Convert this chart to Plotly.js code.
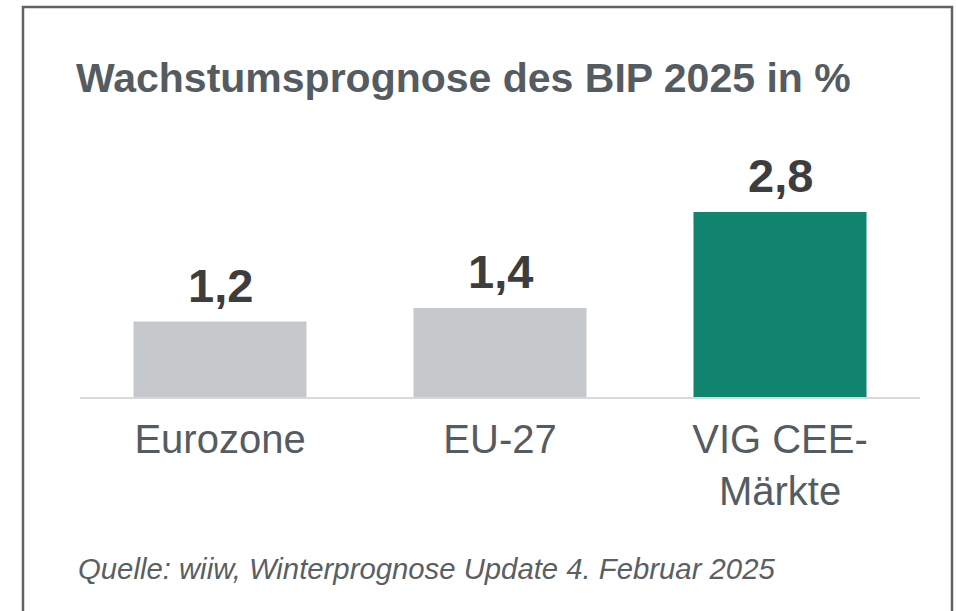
<!DOCTYPE html>
<html>
<head>
<meta charset="utf-8">
<script src="https://cdn.plot.ly/plotly-3.0.1.min.js"></script>
<style>
  html, body { margin: 0; padding: 0; background: #ffffff; }
  #chart { width: 956px; height: 611px; }
</style>
</head>
<body>
<div id="chart"></div>
<script>
const categories = ["Eurozone", "EU-27", "VIG CEE-<br>Märkte"];
const values = [1.2, 1.4, 2.8];
const valueLabels = ["1,2", "1,4", "2,8"];
const barColors = ["#c5c9cc", "#c5c9cc", "#10846e"];
const titleText = "Wachstumsprognose des BIP 2025 in %";
const sourceText = "Quelle: wiiw, Winterprognose Update 4. Februar 2025";

const W = 956, H = 611;
const mL = 80, mR = 36, mT = 100, mB = 214;
const plotW = W - mL - mR, plotH = H - mT - mB;
const px2x = p => (p - mL) / plotW;
const py2y = p => (H - mB - p) / plotH;

const FONT = "Liberation Sans, Arial, Helvetica, sans-serif";

const trace = {
  type: "bar",
  x: categories,
  y: values,
  marker: { color: barColors, line: { width: 0 } },
  hoverinfo: "skip",
  cliponaxis: false
};

const annotations = categories.map((c, i) => ({
  x: c, y: values[i], xref: "x", yref: "y",
  text: "<b>" + valueLabels[i] + "</b>",
  showarrow: false, xanchor: "center", yanchor: "bottom", yshift: 8,
  font: { family: FONT, size: 47, color: "#3d3d3d" }
}));

annotations.push({
  xref: "paper", yref: "paper",
  x: px2x(76), y: py2y(587),
  xanchor: "left", yanchor: "bottom",
  text: "<i>" + sourceText + "</i>",
  showarrow: false,
  font: { family: FONT, size: 29.3, color: "#595f63" }
});

const layout = {
  width: W, height: H,
  margin: { l: mL, r: mR, t: mT, b: mB, pad: 0 },
  paper_bgcolor: "#ffffff",
  plot_bgcolor: "#ffffff",
  showlegend: false,
  bargap: 0.382,
  title: {
    text: "<b>" + titleText + "</b>",
    font: { family: FONT, size: 41, color: "#555c61" },
    xref: "container", yref: "container",
    x: 76 / W, xanchor: "left",
    y: 1 - 63 / H, yanchor: "top"
  },
  xaxis: {
    type: "category",
    showgrid: false, zeroline: false,
    showline: true, linecolor: "#d9d9d9", linewidth: 2,
    ticks: "",
    tickfont: { family: FONT, size: 40, color: "#555c61" },
    ticklabelstandoff: 6,
    fixedrange: true
  },
  yaxis: {
    range: [0.1, 4.434],
    showgrid: false, zeroline: false, showline: false,
    showticklabels: false, ticks: "",
    fixedrange: true
  },
  annotations: annotations,
  shapes: [{
    type: "path", xref: "paper", yref: "paper",
    path: "M " + px2x(23) + "," + py2y(640) +
          " L " + px2x(23) + "," + py2y(7) +
          " L " + px2x(952) + "," + py2y(7) +
          " L " + px2x(952) + "," + py2y(640),
    line: { color: "#5d6368", width: 2.5 },
    layer: "above"
  }]
};

Plotly.newPlot("chart", [trace], layout, { displayModeBar: false, staticPlot: true });
</script>
</body>
</html>
